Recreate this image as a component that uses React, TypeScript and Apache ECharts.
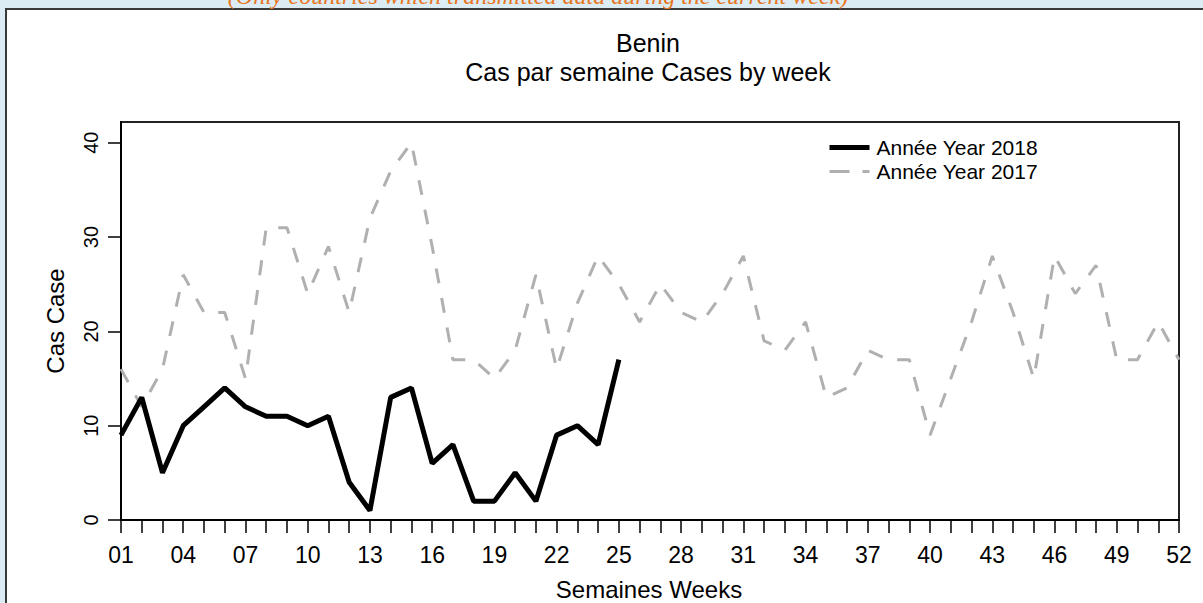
import React, { useEffect, useRef } from "react";
import * as echarts from "echarts";

const weeks = [
  "01", "02", "03", "04", "05", "06", "07", "08", "09", "10",
  "11", "12", "13", "14", "15", "16", "17", "18", "19", "20",
  "21", "22", "23", "24", "25", "26", "27", "28", "29", "30",
  "31", "32", "33", "34", "35", "36", "37", "38", "39", "40",
  "41", "42", "43", "44", "45", "46", "47", "48", "49", "50",
  "51", "52",
];

const cases2018 = [
  9, 13, 5, 10, 12, 14, 12, 11, 11, 10,
  11, 4, 1, 13, 14, 6, 8, 2, 2, 5,
  2, 9, 10, 8, 17,
];

const cases2017 = [
  16, 12, 16, 26, 22, 22, 15, 31, 31, 24,
  29, 22, 32, 37, 40, 29, 17, 17, 15, 18,
  26, 16, 23, 28, 25, 21, 25, 22, 21, 24,
  28, 19, 18, 21, 13, 14, 18, 17, 17, 9,
  15, 21, 28, 22, 15, 28, 24, 27, 17, 17,
  21, 17,
];

const yTicks = [0, 10, 20, 30, 40];

const name2018 = "Année Year 2018";
const name2017 = "Année Year 2017";

export default function App() {
  const ref = useRef<HTMLDivElement>(null);

  useEffect(() => {
    if (!ref.current) return;
    const chart = echarts.init(ref.current, undefined, { renderer: "svg" });
    const font = "Liberation Sans, Arial, sans-serif";
    chart.setOption({
      animation: false,
      backgroundColor: "#dbecf4",
      textStyle: { fontFamily: font },
      graphic: [
        {
          type: "rect",
          z: -10,
          silent: true,
          shape: { x: 6, y: 9, width: 1400, height: 800 },
          style: { fill: "#ffffff", stroke: "#3a3a3a", lineWidth: 2 },
        },
        {
          type: "text",
          x: 538,
          y: 8,
          style: {
            text: "(Only countries which transmitted data during the current week)",
            fill: "#e8761e",
            font: "italic 24px Liberation Serif, serif",
            textAlign: "center",
            textVerticalAlign: "bottom",
          },
        },
        {
          type: "text",
          x: 648,
          y: 43,
          style: {
            text: "Benin",
            fill: "#000",
            font: "25px " + font,
            textAlign: "center",
            textVerticalAlign: "middle",
          },
        },
        {
          type: "text",
          x: 648,
          y: 72,
          style: {
            text: "Cas par semaine Cases by week",
            fill: "#000",
            font: "25px " + font,
            textAlign: "center",
            textVerticalAlign: "middle",
          },
        },
        {
          type: "text",
          x: 649,
          y: 589,
          style: {
            text: "Semaines Weeks",
            fill: "#000",
            font: "24px " + font,
            textAlign: "center",
            textVerticalAlign: "middle",
          },
        },
        {
          type: "text",
          x: 55,
          y: 321,
          rotation: Math.PI / 2,
          style: {
            text: "Cas Case",
            fill: "#000",
            font: "24px " + font,
            textAlign: "center",
            textVerticalAlign: "middle",
          },
        },
      ],
      legend: {
        orient: "vertical",
        left: 822,
        top: 132,
        itemWidth: 40,
        itemHeight: 20,
        itemGap: 3,
        itemStyle: { opacity: 0 },
        data: [
          { name: name2018, lineStyle: { width: 5, color: "#000" } },
          { name: name2017, lineStyle: { width: 3, color: "#b0b0b0", type: [20, 13] } },
        ],
        textStyle: {
          fontSize: 21,
          color: "#000",
          fontFamily: font,
          padding: [0, 0, 0, 2],
        },
      },
      grid: {
        left: 121,
        right: 24,
        top: 122,
        bottom: 83,
        show: true,
        borderColor: "#222",
        borderWidth: 2,
        backgroundColor: "transparent",
      },
      xAxis: {
        type: "category",
        data: weeks,
        boundaryGap: false,
        axisLine: { show: true, lineStyle: { color: "#000", width: 2 } },
        axisTick: {
          show: true,
          interval: 0,
          length: 13,
          lineStyle: { color: "#000", width: 1.5 },
        },
        axisLabel: {
          interval: 2,
          fontSize: 23,
          color: "#000",
          margin: 23,
          fontFamily: font,
        },
        splitLine: { show: false },
      },
      yAxis: {
        type: "value",
        min: 0,
        max: 42.2,
        axisLine: { show: true, lineStyle: { color: "#000", width: 2 } },
        axisTick: {
          show: true,
          customValues: yTicks,
          length: 13,
          lineStyle: { color: "#000", width: 1.5 },
        },
        axisLabel: {
          customValues: yTicks,
          rotate: 90,
          fontSize: 20,
          color: "#000",
          margin: 20,
          fontFamily: font,
        },
        splitLine: { show: false },
      },
      series: [
        {
          name: name2017,
          type: "line",
          data: cases2017,
          symbol: "none",
          showSymbol: false,
          lineStyle: { color: "#b0b0b0", width: 3, type: [15, 15] },
          itemStyle: { color: "#b0b0b0" },
          z: 2,
        },
        {
          name: name2018,
          type: "line",
          data: cases2018,
          symbol: "none",
          showSymbol: false,
          lineStyle: { color: "#000000", width: 5 },
          itemStyle: { color: "#000000" },
          z: 3,
        },
      ],
    });
    return () => chart.dispose();
  }, []);

  return (
    <div
      ref={ref}
      style={{ position: "absolute", left: 0, top: 0, width: 1203, height: 603 }}
    />
  );
}
